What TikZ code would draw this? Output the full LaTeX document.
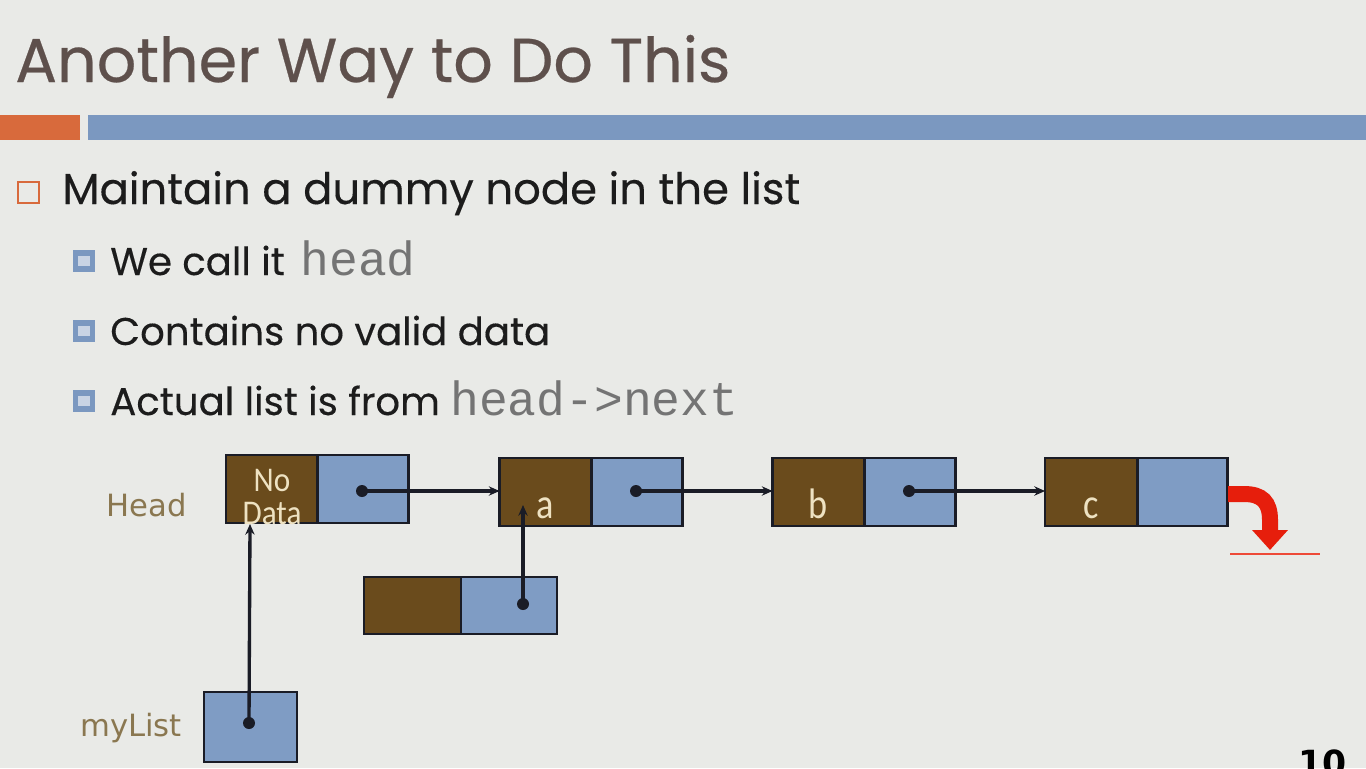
\documentclass[tikz,border=0pt]{standalone}
\usepackage{fontspec}
\setmainfont{Poppins}
\setmonofont{Liberation Mono}
\newfontfamily\lblfont{DejaVu Sans}
\newfontfamily\cellfont{Carlito}
\usetikzlibrary{arrows.meta}
\definecolor{bg}{HTML}{E9EAE7}
\definecolor{titlecol}{HTML}{5E504C}
\definecolor{orangebar}{HTML}{D86A3C}
\definecolor{bluebar}{HTML}{7B98C0}
\definecolor{bluelight}{HTML}{C9D4E4}
\definecolor{bodytext}{HTML}{1C1C1C}
\definecolor{monotext}{HTML}{747474}
\definecolor{cellbrown}{HTML}{6A4B1C}
\definecolor{cellblue}{HTML}{7F9CC4}
\definecolor{cellborder}{HTML}{1A1C26}
\definecolor{cream}{HTML}{EEE2C2}
\definecolor{lblcol}{HTML}{8A7750}
\definecolor{redarrow}{HTML}{E61E0C}
\definecolor{redline}{HTML}{EE4A38}
\tikzset{
  cellbase/.style={draw=cellborder, line width=2.2pt, inner sep=0pt, outer sep=0pt, minimum height=51pt},
  datacell/.style={cellbase, fill=cellbrown, minimum width=69pt, text=cream, font=\cellfont\fontsize{32}{32}\selectfont},
  ptrcell/.style={cellbase, fill=cellblue, minimum width=68pt},
  ptr/.style={line width=2.5pt, draw=cellborder, -{Stealth[length=8pt,width=7pt]}},
  dotmark/.style={circle, fill=cellborder, inner sep=0pt, minimum size=9pt},
  bodyline/.style={anchor=base west, inner sep=0pt, text=bodytext},
  subbullet/.style={fill=bluebar},
  lbl/.style={text=lblcol, inner sep=0pt, font=\lblfont\fontsize{23}{23}\selectfont}
}
\newcommand{\lowtxt}[1]{\raisebox{-19.5pt}[0pt][0pt]{\makebox[0pt]{\scalebox{0.85}[1]{#1}}}}
\newcommand{\nodatatxt}{\fontsize{26}{26}\selectfont\raisebox{-1.5pt}[0pt][0pt]{\makebox[0pt]{\scalebox{0.9}[1]{No}}}\raisebox{-26.5pt}[0pt][0pt]{\makebox[0pt]{\scalebox{0.9}[1]{Data}}}}
\begin{document}
\begin{tikzpicture}[x=0.75pt,y=-0.75pt]
\useasboundingbox (0,0) rectangle (1366,768);
\clip (0,0) rectangle (1366,768);
\fill[bg] (0,0) rectangle (1366,768);

% title and bars
\node[anchor=base west, inner sep=0pt, text=titlecol, font=\addfontfeatures{FakeBold=0.4}\fontsize{46.5}{56}\selectfont] (title) at (15,82) {Another Way to Do This};
\fill[orangebar] (0,115) rectangle (80,140);
\fill[bluebar] (88,115) rectangle (1366,140);

% bullets
\draw[orangebar, line width=1.1pt] (18,182) rectangle (39,203);
\node[bodyline, font=\addfontfeatures{FakeBold=0.3}\fontsize{32.5}{36}\selectfont] (b1) at (62,204) {Maintain a dummy node in the list};

\fill[subbullet] (73,250) rectangle (95,272);
\fill[bluelight] (78,256) rectangle (90,266);
\node[bodyline, font=\addfontfeatures{FakeBold=0.3}\fontsize{29}{32}\selectfont] (s1) at (110,275) {We call it\hspace{4pt} \textcolor{monotext}{\ttfamily\fontsize{36}{36}\selectfont head}};

\fill[subbullet] (73,320) rectangle (95,342);
\fill[bluelight] (78,326) rectangle (90,336);
\node[bodyline, font=\addfontfeatures{FakeBold=0.3}\fontsize{29}{32}\selectfont] (s2) at (110,345) {Contains no valid data};

\fill[subbullet] (73,390) rectangle (95,412);
\fill[bluelight] (78,396) rectangle (90,406);
\node[bodyline, font=\addfontfeatures{FakeBold=0.3}\fontsize{29}{32}\selectfont] (s3) at (110,415) {Actual list is from \textcolor{monotext}{\ttfamily\fontsize{36}{36}\selectfont head->next}};

% linked list nodes
\node[datacell] (hd) at (272,489) {\nodatatxt};
\node[ptrcell] (hp) at (363,489) {};
\node[datacell] (ad) at (545.5,492) {\lowtxt{a}};
\node[ptrcell] (ap) at (637,492) {};
\node[datacell] (bd) at (818.5,492) {\lowtxt{b}};
\node[ptrcell] (bp) at (910,492) {};
\node[datacell] (cd) at (1091,492) {\lowtxt{c}};
\node[ptrcell] (cp) at (1182.5,492) {};

\node[datacell, minimum width=72.75pt, minimum height=42.75pt] (nd) at (412.5,605.5) {};
\node[ptrcell, minimum width=72pt, minimum height=42.75pt] (np) at (509,605.5) {};

\node[ptrcell, minimum width=69.75pt, minimum height=52.5pt] (ml) at (250.5,727) {};

% labels
\node[lbl] (headlbl) at (147,505) {Head};
\node[lbl] (mylbl) at (131,728) {myList};

% dots and pointers
\node[dotmark] (hdot) at (362,491) {};
\node[dotmark] (adot) at (636,491) {};
\node[dotmark] (bdot) at (909,491) {};
\node[dotmark] (ndot) at (523,604) {};
\node[dotmark] (mdot) at (249,723) {};
\coordinate (atgt) at (523,505);
\coordinate (htgt) at (250,524);

\draw[ptr] (hdot.center) -- (ad.west |- hdot);
\draw[ptr] (adot.center) -- (bd.west |- adot);
\draw[ptr] (bdot.center) -- (cd.west |- bdot);
\draw[ptr] (ndot.center) -- (atgt);
\draw[ptr] (mdot.center) -- (htgt);

% null terminator
\coordinate (nullstart) at (1228,494);
\coordinate (nulltip) at (1270,550);
\coordinate (gl) at (1230,554);
\coordinate (gr) at (1320,554);
\draw[redline, line width=2.2pt] (gl) -- (gr);
\draw[redarrow, line width=12pt, -{Triangle[width=26pt,length=15pt]}]
  (nullstart) -- (1244,494) .. controls (1262,494) and (1270,502) .. (1270,520) -- (nulltip);

% page number
\node[anchor=north west, inner sep=0pt, font=\lblfont\bfseries\fontsize{26}{26}\selectfont] (pg) at (1298,749) {10};
\end{tikzpicture}
\end{document}
